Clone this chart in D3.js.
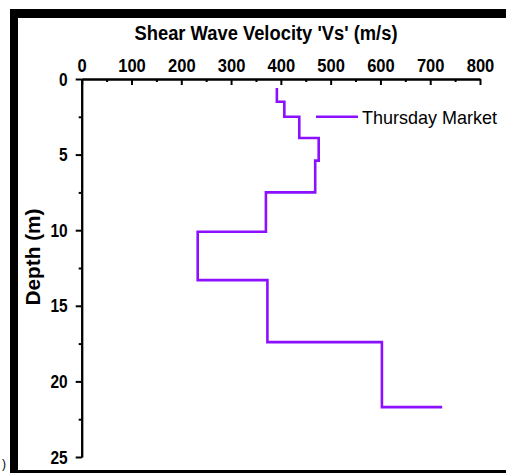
<!DOCTYPE html>
<html>
<head>
<meta charset="utf-8">
<script src="https://cdn.jsdelivr.net/npm/d3@7/dist/d3.min.js"></script>
<style>
  html, body { margin: 0; padding: 0; background: #fff; }
  svg { display: block; }
  text { font-family: "Liberation Sans", Arial, sans-serif; }
</style>
</head>
<body>
<svg id="chart" width="506" height="473"></svg>
<script>
// ---- data ----
const layerTop    = [0.6, 1.5, 2.5, 3.9, 5.4, 7.5, 10.1, 13.3, 17.4];
const layerBottom = [1.5, 2.5, 3.9, 5.4, 7.5, 10.1, 13.3, 17.4, 21.7];
const layerVs     = [392, 407, 437, 476, 469, 370, 233, 373, 603];
const lastDepth   = [21.7];
const lastVs      = [724];
const xTicks      = [0, 100, 200, 300, 400, 500, 600, 700, 800];
const xMinor      = [50, 150, 250, 350, 450, 550, 650, 750];
const yTicks      = [0, 5, 10, 15, 20, 25];
const yMinor      = [2.5, 7.5, 12.5, 17.5, 22.5];
const seriesName  = "Thursday Market";
const titleText   = "Shear Wave Velocity 'Vs' (m/s)";
const yLabelText  = "Depth (m)";

const svg = d3.select("#chart");
const purple = "#8a10ff";

// frame pieces
svg.append("rect").attr("x", 10).attr("y", 9).attr("width", 8).attr("height", 464).attr("fill", "#000");
svg.append("rect").attr("x", 10).attr("y", 9).attr("width", 496).attr("height", 9).attr("fill", "#000");
svg.append("rect").attr("x", 10).attr("y", 470).attr("width", 496).attr("height", 3).attr("fill", "#000");
svg.append("text").attr("x", 2).attr("y", 468).attr("font-size", 12).text(")");

const x = d3.scaleLinear().domain([0, 800]).range([81.7, 480]);
const y = d3.scaleLinear().domain([0, 25]).range([79, 457]);

// x axis (top), ticks pointing inward
svg.append("g").attr("class", "xax").attr("transform", `translate(0,${y(0)})`)
  .call(d3.axisTop(x).tickValues(xTicks).tickSizeInner(-6).tickSizeOuter(0).tickPadding(7));
svg.append("g").attr("transform", `translate(0,${y(0)})`)
  .call(d3.axisTop(x).tickValues(xMinor).tickSizeInner(-3).tickSizeOuter(0).tickFormat(""));

// y axis (left), ticks pointing outward
svg.append("g").attr("class", "yax").attr("transform", `translate(${x(0)},0)`)
  .call(d3.axisLeft(y).tickValues(yTicks).tickSizeInner(6).tickSizeOuter(0).tickPadding(8));
svg.append("g").attr("transform", `translate(${x(0)},0)`)
  .call(d3.axisLeft(y).tickValues(yMinor).tickSizeInner(3).tickSizeOuter(0).tickFormat(""));

svg.selectAll(".domain").attr("stroke", "#000").attr("stroke-width", 2);
svg.selectAll(".tick line").attr("stroke", "#000").attr("stroke-width", 2);
svg.selectAll(".tick text").attr("font-family", "Liberation Sans, Arial, sans-serif")
  .attr("font-weight", "bold").attr("font-size", 19).attr("fill", "#000")
  .attr("lengthAdjust", "spacingAndGlyphs");
svg.selectAll(".xax .tick text").attr("textLength", d => String(d).length * 9.2);
svg.selectAll(".yax .tick text").attr("textLength", d => String(d).length * 8.6);

// title and y label
svg.append("text").attr("x", 266).attr("y", 40).attr("text-anchor", "middle")
  .attr("font-size", 20).attr("font-weight", "bold")
  .attr("textLength", 263).attr("lengthAdjust", "spacingAndGlyphs").text(titleText);
svg.append("text").attr("transform", "translate(40,257) rotate(-90)").attr("text-anchor", "middle")
  .attr("font-size", 20).attr("font-weight", "bold")
  .attr("textLength", 97).attr("lengthAdjust", "spacingAndGlyphs").text(yLabelText);

// step profile
const pts = [];
layerVs.forEach((v, i) => { pts.push([v, layerTop[i]]); pts.push([v, layerBottom[i]]); });
pts.push([lastVs[0], lastDepth[0]]);
svg.append("path").datum(pts)
  .attr("fill", "none").attr("stroke", purple).attr("stroke-width", 2.6)
  .attr("stroke-linejoin", "miter")
  .attr("d", d3.line().x(d => x(d[0])).y(d => y(d[1])));

// legend
svg.append("line").attr("x1", 316).attr("x2", 358).attr("y1", 116.7).attr("y2", 116.7)
  .attr("stroke", purple).attr("stroke-width", 2.6);
svg.append("text").attr("x", 362).attr("y", 123.5).attr("font-size", 19)
  .attr("textLength", 135).attr("lengthAdjust", "spacingAndGlyphs").text(seriesName);
</script>
</body>
</html>
